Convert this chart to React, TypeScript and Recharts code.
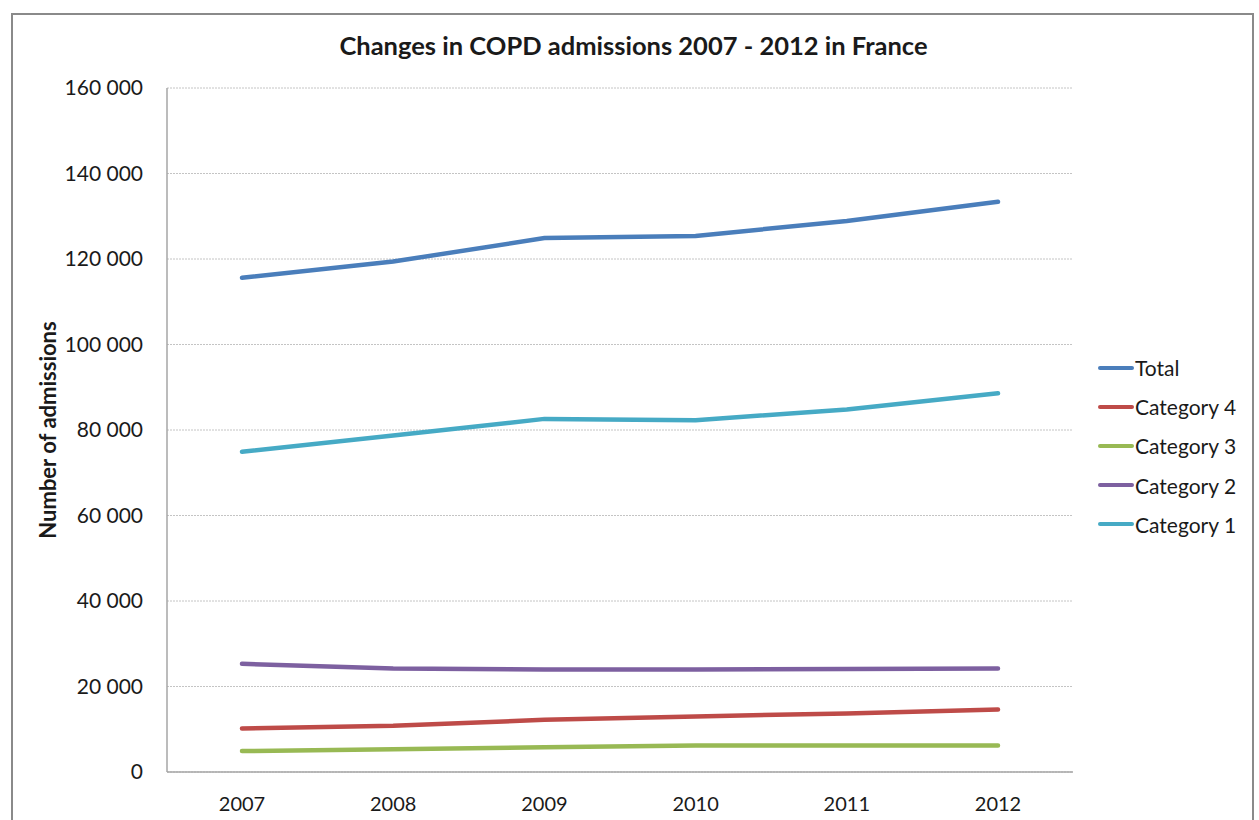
import React from 'react';
import { LineChart, Line, XAxis, YAxis, CartesianGrid, Legend, Label } from 'recharts';

const years = ['2007', '2008', '2009', '2010', '2011', '2012'];
const total = [115600, 119400, 124900, 125400, 128900, 133400];
const category4 = [10200, 10800, 12200, 13000, 13700, 14600];
const category3 = [4900, 5300, 5800, 6200, 6200, 6200];
const category2 = [25300, 24200, 24000, 24000, 24100, 24200];
const category1 = [74900, 78700, 82600, 82300, 84800, 88600];
const yTicks = [0, 20000, 40000, 60000, 80000, 100000, 120000, 140000, 160000];

const seriesNames = ['Total', 'Category 4', 'Category 3', 'Category 2', 'Category 1'];
const seriesColors = ['#4A7EBB', '#BE4B48', '#98B954', '#7D60A0', '#46AAC5'];
const seriesValues = [total, category4, category3, category2, category1];

const data = years.map((y, i) => {
  const row: Record<string, string | number> = { year: y };
  seriesNames.forEach((n, k) => {
    row[n] = seriesValues[k][i];
  });
  return row;
});

const FONT = 'Lato, "Open Sans", sans-serif';

const fmt = (v: number) => {
  const s = String(v);
  if (s.length <= 3) return s;
  return s.slice(0, s.length - 3) + ' ' + s.slice(s.length - 3);
};

const renderLegend = (props: any) => {
  const payload = [...(props.payload || [])].sort(
    (a: any, b: any) => seriesNames.indexOf(a.value) - seriesNames.indexOf(b.value)
  );
  return (
    <div style={{ fontFamily: FONT, fontSize: 21, color: '#1a1a1a' }}>
      {payload.map((p: any) => (
        <div key={p.value} style={{ display: 'flex', alignItems: 'center', height: 39.2 }}>
          <div style={{ width: 36, height: 4, background: p.color, borderRadius: 2, marginRight: 1 }} />
          <span>{p.value}</span>
        </div>
      ))}
    </div>
  );
};

const YLabel = (props: any) => {
  const vb = props.viewBox || { x: 0, y: 0, width: 0, height: 0 };
  const cx = vb.x + 47;
  const cy = vb.y + vb.height / 2;
  return (
    <text
      x={cx}
      y={cy}
      transform={`rotate(-90 ${cx} ${cy})`}
      textAnchor="middle"
      dominantBaseline="central"
      fontFamily={FONT}
      fontWeight="bold"
      fontSize={22}
      fill="#1a1a1a"
    >
      Number of admissions
    </text>
  );
};

export default function App() {
  return (
    <div style={{ position: 'absolute', left: 0, top: 0, width: 1259, height: 820, overflow: 'hidden', background: '#fff' }}>
      <div
        style={{
          position: 'absolute',
          left: 11,
          top: 13,
          width: 1243,
          height: 840,
          border: '2px solid #8a8a8a',
          boxSizing: 'border-box',
        }}
      />
      <div
        style={{
          position: 'absolute',
          left: 0,
          top: 30,
          width: 1267,
          textAlign: 'center',
          fontFamily: FONT,
          fontWeight: 'bold',
          fontSize: 25.5,
          color: '#1a1a1a',
        }}
      >
        Changes in COPD admissions 2007 - 2012 in France
      </div>
      <div style={{ position: 'absolute', left: 0, top: 0 }}>
        <LineChart width={1259} height={820} data={data} margin={{ top: 88, right: 186, left: 0, bottom: 0 }}>
          <CartesianGrid vertical={false} stroke="#c4c4c4" strokeDasharray="2 1" />
          <XAxis
            dataKey="year"
            height={48}
            padding={{ left: 75, right: 75 }}
            axisLine={{ stroke: '#a6a6a6', strokeWidth: 1.5 }}
            tickLine={false}
            tickSize={0}
            tickMargin={25}
            tick={{ fontFamily: FONT, fontSize: 20, fill: '#1a1a1a' }}
          />
          <YAxis
            width={167}
            domain={[0, 160000]}
            ticks={yTicks}
            interval={0}
            tickFormatter={fmt}
            axisLine={{ stroke: '#a6a6a6', strokeWidth: 1.5 }}
            tickLine={false}
            tickSize={0}
            tickMargin={24}
            tick={{ fontFamily: FONT, fontSize: 21, fill: '#1a1a1a' }}
          >
            <Label content={<YLabel />} />
          </YAxis>
          <Legend
            layout="vertical"
            align="center"
            verticalAlign="middle"
            content={renderLegend}
            wrapperStyle={{ position: 'absolute', left: 1098, top: 348, width: 155 }}
          />
          {seriesNames.map((n, k) => (
            <Line
              key={n}
              type="linear"
              dataKey={n}
              name={n}
              stroke={seriesColors[k]}
              strokeWidth={4.5}
              strokeLinecap="round"
              dot={false}
              activeDot={false}
              isAnimationActive={false}
            />
          ))}
        </LineChart>
      </div>
    </div>
  );
}
